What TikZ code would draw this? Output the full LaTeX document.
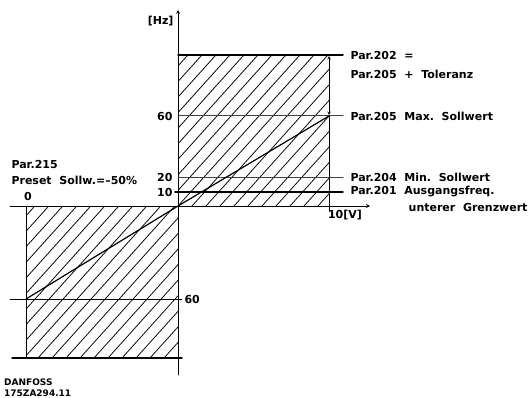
\documentclass[tikz,border=0pt]{standalone}
\usepackage{fontspec}
\setmainfont{DejaVu Sans}
\begin{document}
\begin{tikzpicture}[x=1pt, y=-1pt, font=\fontsize{11}{12}\selectfont\bfseries, line join=round, line cap=round, >=stealth]
			\useasboundingbox (0,0) rectangle (529,398);
			% hatching
			\begin{scope}
				\clip (178,55) rectangle (329,206);
				\foreach \k in {-200,-186,...,360} \draw[line width=0.75pt] (\k,206) -- ++(180,-200);
			\end{scope}
			\begin{scope}
				\clip (26,206) rectangle (178,358);
				\foreach \k in {-200,-186,...,360} \draw[line width=0.75pt] (\k,358) -- ++(180,-200);
			\end{scope}
			% axes
			\draw[->, line width=0.7pt] (10,206) -- (370,206);
			\draw[->, line width=0.7pt] (178,375) -- (178,10);
			% levels
			\draw[line width=1.4pt] (178,55) -- (343,55);
			\draw[line width=1pt, black!75] (178,116) -- (343,116);
			\draw[line width=1pt, black!75] (178,177) -- (343,177);
			\draw[line width=1.4pt] (175,192) -- (343,192);
			\draw[line width=0.7pt] (329,116) -- (329,211);
			\draw[<->, line width=0.6pt] (329,56) -- (329,115);
			\draw[line width=0.7pt] (26,206) -- (26,358);
			\draw[line width=0.9pt] (10,299) -- (182,299);
			\draw[line width=1.4pt] (12,358) -- (182,358);
			% characteristic
			\draw[line width=1.2pt] (26,299) -- (178,206) -- (329,116);
			% labels
			\node[anchor=east] (hz) at (177,21) {[Hz]};
			\node[anchor=east] (f60) at (176,116) {60};
			\node[anchor=east] (f20) at (176,177) {20};
			\node[anchor=east] (f10) at (176,192) {10};
			\node[anchor=west] (p202) at (347,55) {Par.202\ \ =};
			\node[anchor=west] (p205t) at (347,74) {Par.205\ \ +\ \ Toleranz};
			\node[anchor=west] (p205) at (347,116) {Par.205\ \ Max.\ \ Sollwert};
			\node[anchor=west] (p204) at (347,177) {Par.204\ \ Min.\ \ Sollwert};
			\node[anchor=west] (p201) at (347,192) {Par.201\ \ Ausgangsfreq.};
			\node[anchor=east] (grenz) at (531,207) {unterer\ \ Grenzwert};
			\node (u10) at (345,215) {10[V]};
			\node[anchor=west] (p215) at (8,164) {Par.215};
			\node[anchor=west] (preset) at (8,180) {Preset\ \ Sollw.=--50\%};
			\node (u0) at (28,196) {0};
			\node[anchor=west] (m60) at (181,299) {60};
			\node[anchor=base west, inner sep=0pt, font=\fontsize{9}{10}\selectfont\bfseries] (firm) at (4,385) {DANFOSS};
			\node[anchor=base west, inner sep=0pt, font=\fontsize{9}{10}\selectfont\bfseries] (code) at (4,396) {175ZA294.11};
		\end{tikzpicture}
\end{document}
